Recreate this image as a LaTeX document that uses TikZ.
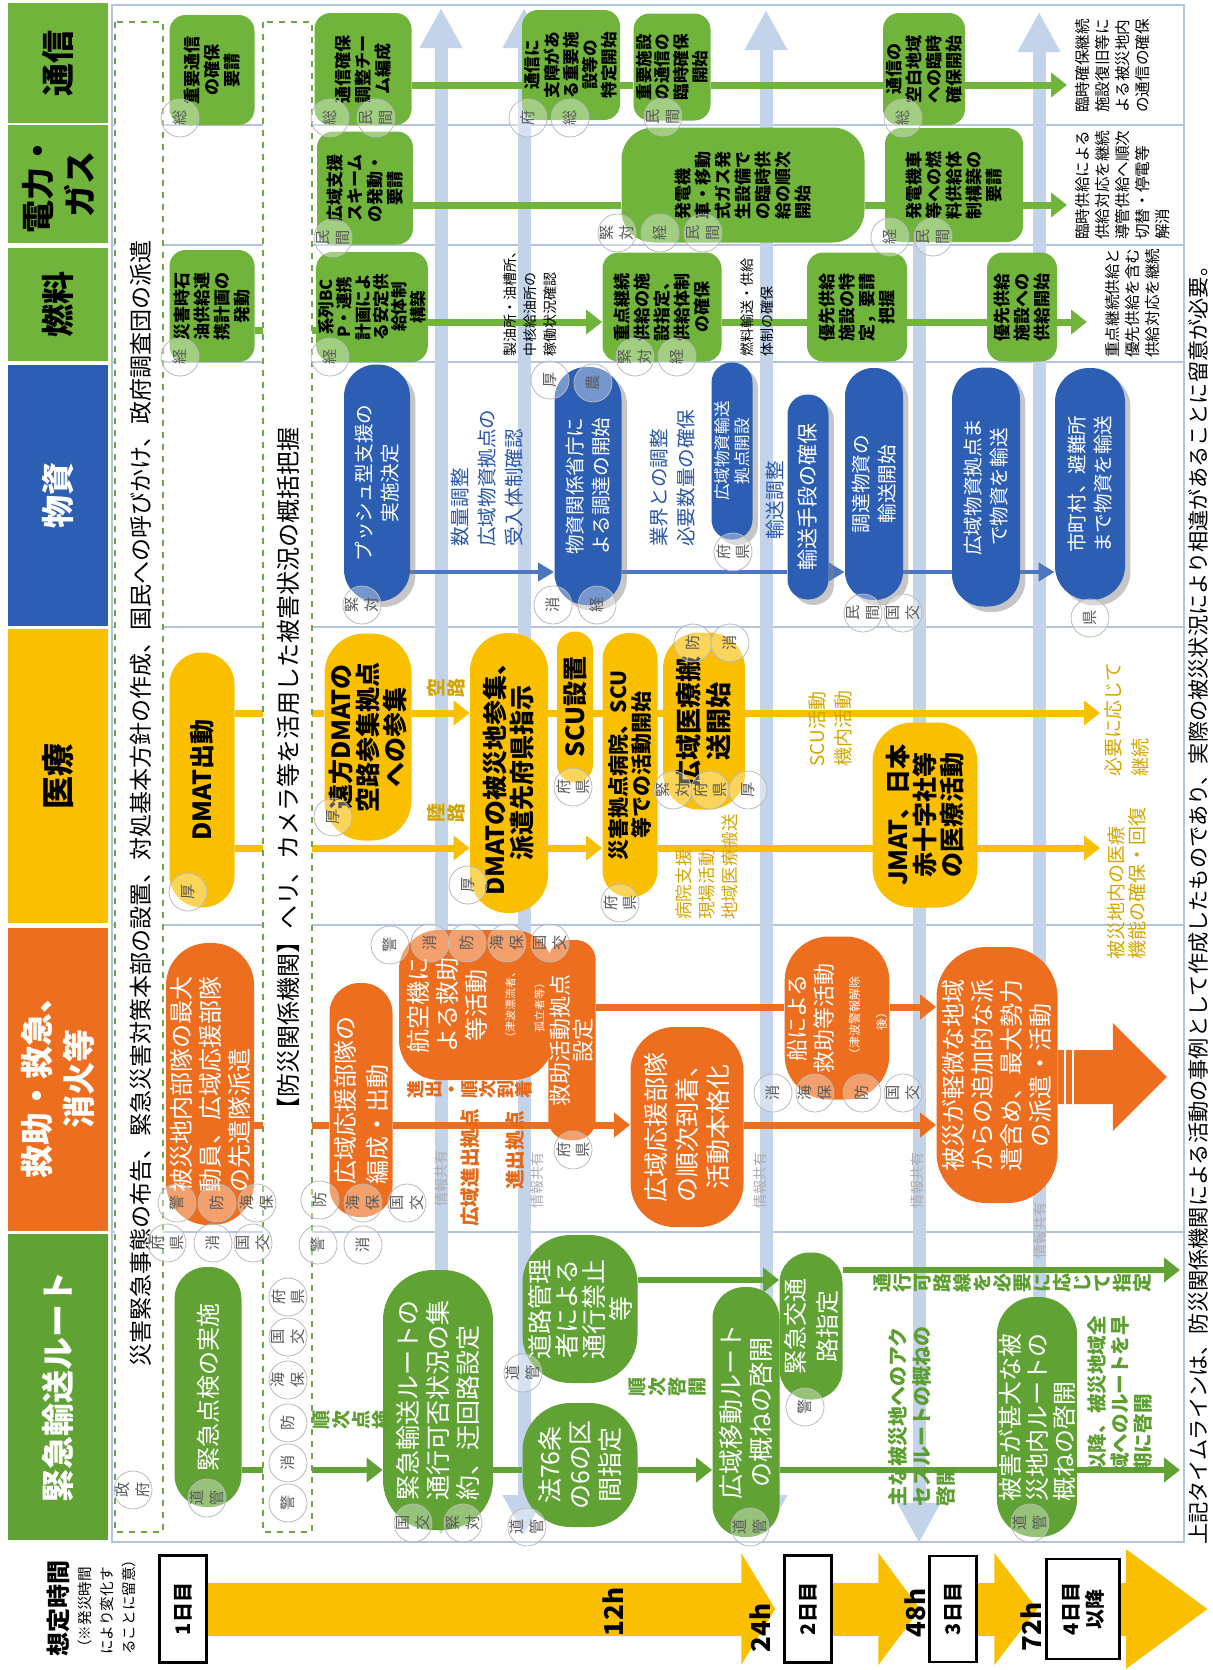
\documentclass[tikz,border=0pt]{standalone}
\usepackage{fontspec}
\setmainfont{Noto Sans CJK JP}
\usetikzlibrary{arrows.meta, positioning, calc, shadows}

\definecolor{LeafGreen}{RGB}{112, 180, 60}
\definecolor{RouteGreen}{RGB}{96, 162, 52}
\definecolor{RoyalBlue}{RGB}{44, 94, 180}
\definecolor{Amber}{RGB}{250, 192, 0}
\definecolor{Carrot}{RGB}{237, 110, 30}
\definecolor{PaleBlue}{RGB}{194, 211, 234}
\definecolor{GridBlue}{RGB}{180, 196, 220}
\definecolor{LabelGreen}{RGB}{92, 158, 48}
\definecolor{LabelAmber}{RGB}{212, 165, 0}
\definecolor{LabelOrange}{RGB}{228, 104, 24}
\definecolor{LabelBlue}{RGB}{40, 86, 168}
\definecolor{DashGreen}{RGB}{110, 168, 70}

\newcommand\tagpair[2]{\shortstack{#1\\#2}}

\pgfdeclarelayer{back}
\pgfdeclarelayer{links}
\pgfdeclarelayer{columns}
\pgfsetlayers{back,links,columns,main}

\begin{document}
\begin{tikzpicture}[
        x=0.5pt, y=-0.5pt,
        sz/.style 2 args={minimum height=#1*0.5pt, minimum width=#2*0.5pt},
        upright/.style={rotate=90, inner sep=1pt, align=center},
        header/.style={upright, inner sep=0pt, font=\fontsize{16.5}{21}\selectfont\bfseries},
        infra/.style={upright, fill=LeafGreen, rounded corners=8pt, font=\fontsize{8.5}{10}\selectfont\bfseries},
        goods/.style={upright, fill=RoyalBlue, text=white, drop shadow={opacity=0.45}, font=\fontsize{9.8}{13}\selectfont},
        medic/.style={upright, fill=Amber, font=\fontsize{12.5}{13.5}\selectfont\bfseries},
        rescue/.style={upright, fill=Carrot, text=white, font=\fontsize{12}{14.5}\selectfont},
        route/.style={upright, fill=RouteGreen, text=white, font=\fontsize{12.5}{15}\selectfont},
        badge/.style={circle, rotate=90, draw=gray!55, fill=white, fill opacity=0.35, text opacity=1, text=gray!70!black, minimum size=19pt, inner sep=0pt, font=\fontsize{7.6}{7.6}\selectfont},
        note/.style={upright, anchor=west, inner sep=0pt, align=left, font=\fontsize{7.8}{10}\selectfont},
        charcol/.style={upright, inner sep=0pt, font=\fontsize{9.5}{10}\selectfont\bfseries},
        daybox/.style={upright, draw=black, line width=1.2pt, fill=white, font=\fontsize{10}{12}\selectfont\bfseries},
        dayarrow/.style={draw=Amber, line width=26.5pt, shorten >=4pt},
        share/.style={draw=PaleBlue, line width=6.5pt},
        infralink/.style={draw=LeafGreen, line width=3.5pt},
        goodslink/.style={draw=RoyalBlue!85, line width=2pt},
        mediclink/.style={draw=Amber, line width=3.5pt},
        rescuelink/.style={draw=Carrot, line width=3.5pt},
        routelink/.style={draw=RouteGreen, line width=3pt},
        arrowhd/.style={-{Triangle[length=8pt, width=12pt]}}
    ]
    \useasboundingbox (0,0) rectangle (1213,1670);

    % frame, rows and information sharing
    \begin{pgfonlayer}{back}
        \draw[GridBlue, line width=0.7pt] (112,5) rectangle (1184,1542);
        \foreach \y in {125,245,362,627,925,1232}
            \draw[GridBlue, line width=0.6pt] (112,\y) -- (1184,\y);
        \foreach \x/\yt [count=\i] in {441/8, 524/8, 766/10, 1039/12} {
            \coordinate (shareTop\i) at (\x,\yt);
            \coordinate (shareBot\i) at (\x,1535);
            \draw[share, {Triangle[length=20pt, width=20pt]}-{Triangle[length=20pt, width=20pt]}] (shareBot\i) -- (shareTop\i);
        }
        \coordinate (shareTop5) at (919,200);
        \coordinate (shareBot5) at (919,1543);
        \draw[share, -{Triangle[length=20pt, width=20pt]}] (shareTop5) -- (shareBot5);
    \end{pgfonlayer}

    \begin{pgfonlayer}{columns}
        \draw[DashGreen, dashed, line width=0.8pt, fill=white] (115,22) rectangle (163,1532);
        \draw[DashGreen, dashed, line width=0.8pt, fill=white] (263,22) rectangle (312,1532);
    \end{pgfonlayer}

    % headers
    \node[header, fill=LeafGreen, sz={100}{120}] (hTsu) at (58,63) {通信};
    \node[header, fill=LeafGreen, sz={100}{118}] (hDen) at (58,184) {電力・\\ガス};
    \node[header, fill=LeafGreen, sz={100}{113}] (hNen) at (58,304) {燃料};
    \node[header, fill=RoyalBlue, text=white, sz={100}{261}] (hBus) at (58,495) {物資};
    \node[header, fill=Amber, sz={100}{294}] (hIry) at (58,776) {医療};
    \node[header, fill=Carrot, text=white, sz={100}{303}] (hKyu) at (58,1079) {救助・救急、\\消火等};
    \node[header, fill=RouteGreen, text=white, sz={100}{306}] (hRt) at (58,1387) {緊急輸送ルート};

    \node[note, font=\fontsize{11.5}{13}\selectfont] (decree) at (141,1367) {災害緊急事態の布告、緊急災害対策本部の設置、対処基本方針の作成、国民への呼びかけ、政府調査団の派遣};
    \node[note, font=\fontsize{12}{14}\selectfont] (survey) at (288,1122) {【防災関係機関】ヘリ、カメラ等を活用した被害状況の概括把握};

    % communication, power, fuel
    \node[infra, sz={85}{110}] (tsu1) at (212,70) {重要通信\\の確保\\要請};
    \node[infra, sz={97}{112}] (tsu2) at (363,69) {通信確保\\調整チー\\ム編成};
    \node[infra, sz={98}{110}, font=\fontsize{8.3}{9.6}\selectfont\bfseries] (tsu3) at (571,65) {通信に\\支障があ\\る重要施\\設等の\\特定開始};
    \node[infra, sz={77}{107}, font=\fontsize{8.3}{9.4}\selectfont\bfseries] (tsu4) at (672,67) {重要施設\\の通信の\\臨時確保\\開始};
    \node[infra, sz={82}{112}] (tsu5) at (924,69) {通信の\\空白地域\\への臨時\\確保開始};
    \node[infra, sz={96}{113}] (den1) at (365,188) {広域支援\\スキーム\\の発動・\\要請};
    \node[infra, sz={243}{115}, rounded corners=16pt, align=left] (den2) at (743,185) {発電機\\車・移動\\式ガス発\\生設備で\\の臨時供\\給の順次\\開始};
    \node[infra, sz={138}{114}] (den3) at (954,185) {発電機車\\等への燃\\料供給体\\制構築の\\要請};
    \node[infra, sz={85}{112}] (nen1) at (212,306) {災害時石\\油供給連\\携計画の\\発動};
    \node[infra, sz={111}{110}, font=\fontsize{8.3}{9.2}\selectfont\bfseries] (nen2) at (372,307) {系列BC\\P・連携\\計画によ\\る安定供\\給体制\\構築};
    \node[infra, sz={119}{109}] (nen3) at (662,307) {重点継続\\供給の施\\設指定、\\供給体制\\の確保};
    \node[infra, sz={100}{109}] (nen4) at (857,307) {優先供給\\施設の特\\定，要請\\把握};
    \node[infra, sz={70}{109}] (nen5) at (1022,307) {優先供給\\施設への\\供給開始};

    \node[note, font=\fontsize{7}{10}\selectfont] (fuelCheck) at (530,357) {製油所・油槽所、\\中核給油所の\\稼働状況確認};
    \node[note, font=\fontsize{7}{10}\selectfont] (fuelFlow) at (757,357) {燃料輸送・供給\\体制の確保};
    \node[note] (tsuNote) at (1113,113) {臨時確保継続\\施設復旧等に\\よる被災地内\\の通信の確保};
    \node[note] (denNote) at (1123,240) {臨時供給による\\供給対応を継続\\導管供給へ順次\\切替・停電等\\解消};
    \node[note] (nenNote) at (1133,358) {重点継続供給と\\優先供給を含む\\供給対応を継続};

    % goods
    \node[goods, sz={66}{237}, rounded corners=16pt] (bu1) at (377,483) {プッシュ型支援の\\実施決定};
    \node[goods, sz={67}{238}, rounded corners=16pt] (bu2) at (588,486) {物資関係省庁に\\よる調達の開始};
    \node[goods, sz={41}{177}, rounded corners=10pt, font=\fontsize{8.3}{9.8}\selectfont] (bu3) at (732,451) {広域物資輸送\\拠点開設};
    \node[goods, sz={41}{205}, rounded corners=10pt, font=\fontsize{10.5}{12}\selectfont] (bu4) at (808,497) {輸送手段の確保};
    \node[goods, sz={58}{232}, rounded corners=14pt] (bu5) at (874,484) {調達物資の\\輸送開始};
    \node[goods, sz={68}{239}, rounded corners=16pt] (bu6) at (986,487) {広域物資拠点ま\\で物資を輸送};
    \node[goods, sz={70}{232}, rounded corners=17pt] (bu7) at (1090,484) {市町村、避難所\\まで物資を輸送};

    \node[note, text=LabelBlue, font=\fontsize{9.8}{13.5}\selectfont] (buQty) at (487,547) {数量調整\\広域物資拠点の\\受入体制確認};
    \node[note, text=LabelBlue, font=\fontsize{9.8}{13.5}\selectfont] (buMkt) at (673,547) {業界との調整\\必要数量の確保};
    \node[note, text=LabelBlue, font=\fontsize{9.8}{13.5}\selectfont] (buTrn) at (775,540) {輸送調整};

    % medical
    \node[medic, sz={65}{255}, rounded corners=16pt] (iry1) at (202,780) {DMAT出動};
    \node[medic, sz={87}{207}, rounded corners=20pt] (iry2) at (368,737) {遠方DMATの\\空路参集拠点\\への参集};
    \node[medic, sz={78}{280}, rounded corners=19pt] (iry3) at (509,773) {DMATの被災地参集、\\派遣先府県指示};
    \node[medic, sz={36}{151}, rounded corners=9pt] (iry4) at (575,707) {SCU設置};
    \node[medic, sz={55}{264}, rounded corners=13pt, font=\fontsize{10.5}{11.2}\selectfont\bfseries] (iry5) at (630,765) {災害拠点病院、SCU\\等での活動開始};
    \node[medic, sz={82}{177}, rounded corners=18pt, font=\fontsize{13}{15}\selectfont\bfseries] (iry6) at (704,721) {広域医療搬\\送開始};
    \node[medic, sz={105}{185}, rounded corners=20pt] (iry7) at (925,815) {JMAT、日本\\赤十字社等\\の医療活動};

    \node[charcol, text=LabelAmber] (air) at (446,688) {空\\路};
    \node[charcol, text=LabelAmber] (land) at (446,813) {陸\\路};
    \node[note, text=LabelAmber, font=\fontsize{9.5}{13}\selectfont] (scuAct) at (830,767) {SCU活動\\機内活動};
    \node[note, text=LabelAmber, font=\fontsize{8.8}{11.5}\selectfont] (hospAct) at (707,920) {病院支援\\現場活動\\地域医療搬送};
    \node[note, text=LabelAmber, font=\fontsize{9.5}{13.5}\selectfont] (keepOn) at (1127,777) {必要に応じて\\継続};
    \node[note, text=LabelAmber, font=\fontsize{9.5}{10.5}\selectfont] (recover) at (1127,960) {被災地内の医療\\機能の確保・回復};

    % rescue
    \node[rescue, sz={88}{282}, rounded corners=21pt, align=left] (kyu1) at (210,1084) {被災地内部隊の最大\\動員、広域応援部隊\\の先遣隊派遣};
    \node[rescue, sz={63}{234}, rounded corners=15pt, align=left, font=\fontsize{12}{16}\selectfont] (kyu2) at (361,1100) {広域応援部隊の\\編成・出動};
    \node[rescue, sz={154}{150}, rounded corners=20pt] (kyu3) at (476,1005) {航空機に\\よる救助\\等活動\\\fontsize{5.5}{8}\selectfont（津波漂流者、\\\fontsize{5.5}{8}\selectfont 孤立者等）};
    \node[rescue, sz={43}{200}, rounded corners=10pt, font=\fontsize{11}{11.5}\selectfont] (kyu4) at (572,1040) {救助活動拠点\\設定};
    \node[rescue, sz={113}{200}, rounded corners=22pt, font=\fontsize{12.5}{15.5}\selectfont] (kyu5) at (687,1127) {広域応援部隊\\の順次到着、\\活動本格化};
    \node[rescue, sz={100}{163}, rounded corners=22pt, font=\fontsize{11}{13.5}\selectfont] (kyu6) at (837,1018) {船による\\救助等活動\\\fontsize{6}{8}\selectfont（津波警報解除\\\fontsize{6}{8}\selectfont 後）};
    \node[rescue, sz={121}{256}, rounded corners=25pt] (kyu7) at (997,1075) {被災が軽微な地域\\からの追加的な派\\遣含め、最大勢力\\の派遣・活動};
    \fill[Carrot] (kyu7.south |- 0,1050) -- ++(55,0) -- ++(0,-27) -- ++(54,54) -- ++(-54,54) -- ++(0,-27) -- ++(-55,0) -- cycle;
    \draw[white, line width=1.2pt] ($(kyu7.south |- 0,1050)+(7,0)$) -- ++(0,54);
    \draw[white, line width=1.2pt] ($(kyu7.south |- 0,1050)+(15,0)$) -- ++(0,54);

    \node[charcol, text=LabelOrange, font=\fontsize{9}{9}\selectfont\bfseries] (advance) at (470,1089) {進\\出\\・\\順\\次\\到\\着};
    \node[note, text=LabelOrange, font=\fontsize{9.8}{12}\selectfont\bfseries] (baseA) at (470,1227) {広域進出拠点};
    \node[note, text=LabelOrange, font=\fontsize{9.8}{12}\selectfont\bfseries] (baseB) at (515,1190) {進出拠点};

    % emergency routes
    \node[route, sz={67}{240}, rounded corners=16pt, font=\fontsize{12}{15}\selectfont] (rt1) at (208,1387) {緊急点検の実施};
    \node[route, sz={110}{260}, rounded corners=25pt, align=left] (rt2) at (438,1400) {緊急輸送ルートの\\通行可否状況の集\\約、迂回路設定};
    \node[route, sz={115}{124}, rounded corners=24pt] (rt3) at (580,1465) {法76条\\の6の区\\間指定};
    \node[route, sz={115}{148}, rounded corners=24pt, font=\fontsize{12.5}{13.5}\selectfont] (rt4) at (580,1309) {道路管理\\者による\\通行禁止\\等};
    \node[route, sz={67}{250}, rounded corners=16pt] (rt5) at (746,1412) {広域移動ルート\\の概ねの啓開};
    \node[route, sz={63}{147}, rounded corners=15pt, font=\fontsize{12}{16}\selectfont] (rt6) at (811,1326) {緊急交通\\路指定};
    \node[route, sz={79}{240}, rounded corners=19pt, align=left, font=\fontsize{12}{13.5}\selectfont] (rt7) at (1037,1417) {被害が甚大な被\\災地内ルートの\\概ねの啓開};

    \node[charcol, text=LabelGreen] (seqCheck) at (352,1420) {順\\次\\点\\検};
    \node[charcol, text=LabelGreen] (seqOpen) at (668,1387) {順\\次\\啓\\開};
    \node[charcol, text=LabelGreen] (designate) at (1013,1283) {通\\行\\可\\路\\線\\を\\必\\要\\に\\応\\じ\\て\\指\\定};
    \node[note, text=LabelGreen, font=\fontsize{10}{12}\selectfont\bfseries] (access) at (922,1507) {主な被災地へのアク\\セスルートの概ねの\\啓開};
    \node[note, text=LabelGreen, font=\fontsize{9.8}{11.5}\selectfont\bfseries] (widen) at (1120,1473) {以降、被災地域全\\域へのルートを早\\期に啓開};

    \foreach \x/\y [count=\i] in {441/1178, 537/1180, 760/1180, 917/1180, 1040/1230}
        \node[upright, inner sep=0pt, text=gray!65, font=\fontsize{7}{8}\selectfont] (shareNote\i) at (\x,\y) {情報共有};

    % agencies
    \foreach \x/\y/\t [count=\i] in {
            133/1490/\tagpair{政}{府}, 288/1297/\tagpair{府}{県}, 288/1337/\tagpair{国}{交}, 288/1380/\tagpair{海}{保},
            288/1423/防, 288/1463/消, 288/1503/警,
            180/118/総, 330/118/総, 376/118/\tagpair{民}{間}, 528/118/府, 570/118/総, 663/117/\tagpair{民}{間}, 903/118/総,
            333/238/\tagpair{民}{間}, 617/233/\tagpair{緊}{対}, 660/233/経, 703/233/\tagpair{民}{間}, 890/237/経, 933/237/\tagpair{民}{間},
            180/357/経, 330/357/経, 635/357/\tagpair{緊}{対}, 677/357/経,
            362/605/\tagpair{緊}{対}, 550/380/厚, 593/383/農, 553/605/消, 597/605/経, 733/552/\tagpair{府}{県},
            863/613/\tagpair{民}{間}, 903/613/\tagpair{国}{交}, 1090/618/県,
            188/892/厚, 333/817/厚, 468/885/厚, 573/787/\tagpair{府}{県}, 620/903/\tagpair{府}{県},
            693/643/防, 730/643/消, 673/790/\tagpair{緊}{対}, 710/790/\tagpair{府}{県}, 748/790/厚,
            177/1203/警, 217/1203/防, 257/1203/\tagpair{海}{保}, 167/1243/\tagpair{府}{県}, 213/1243/消, 253/1243/\tagpair{国}{交},
            320/1200/防, 363/1203/\tagpair{海}{保}, 407/1203/\tagpair{国}{交}, 318/1245/警, 363/1245/消,
            390/945/警, 430/943/消, 467/943/防, 507/943/\tagpair{海}{保}, 550/943/\tagpair{国}{交}, 573/1150/\tagpair{府}{県},
            773/1093/消, 815/1093/\tagpair{海}{保}, 862/1093/防, 903/1093/\tagpair{国}{交},
            207/1498/\tagpair{道}{管}, 413/1523/\tagpair{国}{交}, 463/1523/\tagpair{緊}{対}, 527/1527/\tagpair{道}{管},
            523/1373/\tagpair{道}{管}, 750/1527/\tagpair{道}{管}, 805/1407/警, 1030/1523/\tagpair{道}{管}}
        \node[badge] (badge\i) at (\x,\y) {\t};

    % connectors
    \coordinate (tsuEnd) at (1067,85);
    \coordinate (denEnd) at (1067,205);
    \coordinate (nenEnd) at (1087,322);
    \coordinate (iryEndA) at (1100,713);
    \coordinate (iryEndB) at (1100,848);
    \coordinate (rtEndA) at (1180,1270);
    \coordinate (rtEndB) at (1180,1470);
    \begin{pgfonlayer}{links}
        \draw[infralink] (tsu2.south |- 0,85) -- (tsu3.north |- 0,85);
        \draw[infralink] (tsu3.south |- 0,85) -- (tsu4.north |- 0,85);
        \draw[infralink] (tsu4.south |- 0,85) -- (tsu5.north |- 0,85);
        \draw[infralink, arrowhd] (tsu5.south |- tsuEnd) -- (tsuEnd);
        \draw[infralink] (den1.south |- 0,205) -- (den2.north |- 0,205);
        \draw[infralink] (den2.south |- 0,205) -- (den3.north |- 0,205);
        \draw[infralink, arrowhd] (den3.south |- denEnd) -- (denEnd);
        \draw[infralink] (nen1.south |- 0,330) -- (nen2.north |- 0,330);
        \draw[infralink, arrowhd] (nen2.south |- 0,322) -- (nen3.north |- 0,322);
        \draw[infralink] (nen3.south |- 0,322) -- (nen4.north |- 0,322);
        \draw[infralink] (nen4.south |- 0,322) -- (nen5.north |- 0,322);
        \draw[infralink, arrowhd] (nen5.south |- nenEnd) -- (nenEnd);

        \draw[goodslink, -{Triangle[length=8pt, width=9pt]}] (bu1.south |- 0,572) -- (bu2.north |- 0,572);
        \draw[goodslink] (bu2.south |- 0,572) -- (bu4.north |- 0,572);
        \draw[goodslink, -{Triangle[length=8pt, width=9pt]}] (bu4.south |- 0,572) -- (bu5.north |- 0,572);
        \draw[goodslink] (bu5.south |- 0,572) -- (bu6.north |- 0,572);
        \draw[goodslink, -{Triangle[length=8pt, width=9pt]}] (bu6.south |- 0,572) -- (bu7.north |- 0,572);

        \draw[mediclink] (iry1.south |- 0,713) -- (iry2.north |- 0,713);
        \draw[mediclink, arrowhd] (iry2.south |- 0,713) -- (iry3.north |- 0,713);
        \draw[mediclink] (iry3.south |- 0,713) -- (iry4.north |- 0,713);
        \draw[mediclink] (iry4.south |- 0,713) -- (iry6.north |- 0,713);
        \draw[mediclink, arrowhd] (iry6.south |- iryEndA) -- (iryEndA);
        \draw[mediclink, arrowhd] (iry1.south |- 0,848) -- (iry3.north |- 0,848);
        \draw[mediclink, arrowhd] (iry3.south |- 0,848) -- (iry5.north |- 0,848);
        \draw[mediclink, arrowhd] (iry5.south |- iryEndB) -- (iryEndB);

        \draw[rescuelink] (kyu1.south |- 0,1125) -- (kyu2.north |- 0,1125);
        \draw[rescuelink, arrowhd] (kyu2.south |- 0,1125) -- (kyu5.north |- 0,1125);
        \draw[rescuelink] (kyu4.south |- 0,1007) -- (kyu6.north |- 0,1007);
        \draw[rescuelink, arrowhd] (kyu6.south |- 0,1007) -- (kyu7.north |- 0,1007);
        \draw[rescuelink, arrowhd] (kyu5.south |- 0,1125) -- (kyu7.north |- 0,1125);

        \draw[routelink, arrowhd] (rt1.south |- 0,1470) -- (rt2.north |- 0,1470);
        \draw[routelink] (rt2.south |- 0,1470) -- (rt3.north |- 0,1470);
        \draw[routelink, arrowhd] (rt3.south |- 0,1470) -- (rt5.north |- 0,1470);
        \draw[routelink, arrowhd] (rt4.south |- 0,1280) -- (rt6.north |- 0,1280);
        \draw[routelink, arrowhd] (rt6.south |- rtEndA) -- (rtEndA);
        \draw[routelink, arrowhd] (rt5.south |- rtEndB) -- (rtEndB);
    \end{pgfonlayer}

    % time axis
    \node[upright, inner sep=0pt, font=\fontsize{12}{14}\selectfont\bfseries] (tlHead) at (58,1608) {想定時間};
    \node[note, font=\fontsize{7.3}{11}\selectfont] (tlNote) at (107,1655) {（※発災時間\\により変化す\\ることに留意）};
    \node[daybox, sz={47}{107}] (day1) at (183,1609) {1日目};
    \node[daybox, sz={47}{107}] (day2) at (808,1609) {2日目};
    \node[daybox, sz={47}{106}] (day3) at (953,1609) {3日目};
    \node[daybox, sz={73}{100}] (day4) at (1083,1609) {4日目\\以降};
    \coordinate (dayEnd) at (1208,1609);
    \draw[dayarrow, -{Triangle[length=17pt, width=55pt]}] (day1) -- (day2);
    \draw[dayarrow, -{Triangle[length=21pt, width=55pt]}] (day2) -- (day3);
    \draw[dayarrow, -{Triangle[length=21.5pt, width=55pt]}] (day3) -- (day4);
    \draw[dayarrow, shorten >=0pt, -{Triangle[length=41pt, width=57pt]}] (day4) -- (dayEnd);
    \node[upright, inner sep=0pt, font=\fontsize{13}{15}\selectfont\bfseries] (h12) at (613,1612) {12h};
    \node[upright, inner sep=0pt, font=\fontsize{13}{15}\selectfont\bfseries] (h24) at (760,1628) {24h};
    \node[upright, inner sep=0pt, font=\fontsize{13}{15}\selectfont\bfseries] (h48) at (915,1613) {48h};
    \node[upright, inner sep=0pt, font=\fontsize{13}{15}\selectfont\bfseries] (h72) at (1031,1627) {72h};

    \node[note, font=\fontsize{10.6}{12}\selectfont] (footer) at (1198,1545) {上記タイムラインは、防災関係機関による活動の事例として作成したものであり、実際の被災状況により相違があることに留意が必要。};
\end{tikzpicture}
\end{document}
